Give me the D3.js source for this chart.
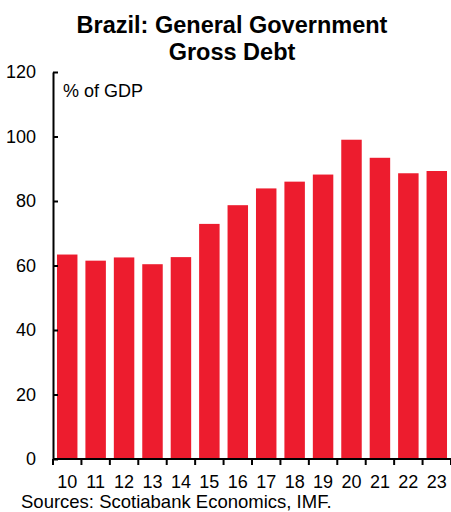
<!DOCTYPE html>
<html>
<head>
<meta charset="utf-8">
<script src="https://cdn.jsdelivr.net/npm/d3@7"></script>
<style>
  body { margin: 0; background: #fff; }
  text { font-family: "Liberation Sans", Arial, sans-serif; }
</style>
</head>
<body>
<div id="chart"></div>
<script>
// Data
const years = ["10", "11", "12", "13", "14", "15", "16", "17", "18", "19", "20", "21", "22", "23"];
const debt = [63.4, 61.5, 62.5, 60.4, 62.6, 72.9, 78.7, 83.9, 86.0, 88.2, 99.0, 93.4, 88.6, 89.3];
const yTicks = [0, 20, 40, 60, 80, 100, 120];

const svgWidth = 451, svgHeight = 512;
const margin = { top: 72, right: 0, bottom: 53, left: 53 };
const width = svgWidth - margin.left - margin.right;
const height = svgHeight - margin.top - margin.bottom;

const svg = d3.select("#chart").append("svg")
    .attr("width", svgWidth)
    .attr("height", svgHeight);

const g = svg.append("g")
    .attr("transform", `translate(${margin.left},${margin.top})`);

const xScale = d3.scaleBand()
    .domain(years)
    .range([0, width])
    .paddingInner(0.28)
    .paddingOuter(0.14);

const yScale = d3.scaleLinear()
    .domain([0, 120])
    .range([height, 0]);

// Bars
g.selectAll(".bar")
    .data(years.map((y, i) => ({ year: y, value: debt[i] })))
    .enter()
    .append("rect")
    .attr("class", "bar")
    .attr("x", d => xScale(d.year))
    .attr("y", d => yScale(d.value))
    .attr("width", xScale.bandwidth())
    .attr("height", d => yScale(0) - yScale(d.value))
    .style("fill", "#ED1C2E");

// Y axis, ticks pointing inward
const yAxis = g.append("g")
    .call(d3.axisRight(yScale).tickValues(yTicks).tickSize(5).tickSizeOuter(0));
yAxis.select(".domain").attr("stroke-width", 2);
yAxis.selectAll(".tick line").attr("stroke-width", 2);
yAxis.selectAll(".tick text")
    .attr("x", -17)
    .attr("text-anchor", "end")
    .style("font-size", "18px")
    .style("fill", "#000");

// X axis, ticks at band boundaries
const step = xScale.step();
const bounds = years.map(y => xScale(y) - step * 0.14).concat([width]);
const xAxisG = g.append("g").attr("transform", `translate(0,${height})`);
xAxisG.append("line")
    .attr("x1", 0).attr("x2", width)
    .attr("stroke", "#000").attr("stroke-width", 2);
xAxisG.selectAll(".xtick")
    .data(bounds)
    .enter()
    .append("line")
    .attr("class", "xtick")
    .attr("x1", d => d).attr("x2", d => d)
    .attr("y1", 0).attr("y2", 6)
    .attr("stroke", "#000").attr("stroke-width", 2);
xAxisG.selectAll(".xlabel")
    .data(years)
    .enter()
    .append("text")
    .attr("class", "xlabel")
    .attr("x", d => xScale(d) + xScale.bandwidth() / 2)
    .attr("y", 29)
    .attr("text-anchor", "middle")
    .style("font-size", "18px")
    .text(d => d);

// Unit label
g.append("text")
    .attr("x", 10)
    .attr("y", 25)
    .style("font-size", "18px")
    .text("% of GDP");

// Title
const title = svg.append("text")
    .attr("x", 232)
    .attr("text-anchor", "middle")
    .style("font-size", "23.5px")
    .style("font-weight", "bold");
title.append("tspan").attr("x", 232).attr("y", 33).text("Brazil: General Government");
title.append("tspan").attr("x", 232).attr("y", 60).text("Gross Debt");

// Source
svg.append("text")
    .attr("x", 21)
    .attr("y", 508)
    .style("font-size", "18.5px")
    .text("Sources: Scotiabank Economics, IMF.");
</script>
</body>
</html>
